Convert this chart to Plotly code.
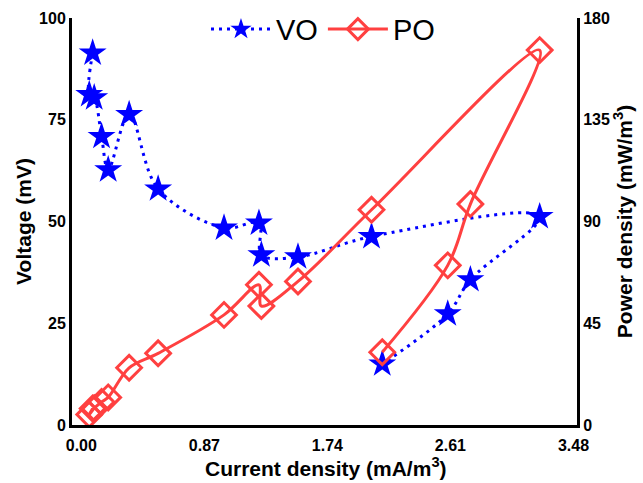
import plotly.graph_objects as go

# Current density (mA/m^3), in measurement order
current = [0.080, 0.056, 0.091, 0.143, 0.190, 0.338, 0.543, 1.009,
           1.256, 1.273, 1.532, 2.052, 3.241, 2.751, 2.591, 2.128]
# Voltage (mV)
voltage = [91.4, 81.2, 80.4, 70.9, 62.7, 76.3, 58.0, 48.4,
           49.6, 41.8, 41.3, 46.3, 51.2, 35.7, 27.3, 15.0]
# Power density (mW/m^3)
power = [7.3, 4.6, 7.4, 10.2, 12.2, 25.3, 31.7, 48.7,
         62.0, 52.6, 63.5, 95.2, 165.8, 97.7, 70.6, 32.2]

x_ticks = [0.00, 0.87, 1.74, 2.61, 3.48]
y_ticks = [0, 25, 50, 75, 100]
y2_ticks = [0, 45, 90, 135, 180]

FONT = "Liberation Sans, Arial, sans-serif"
BLUE = "#0000FF"
RED = "#FF4040"

fig = go.Figure()
fig.add_trace(go.Scatter(
    x=current, y=voltage, name="VO", mode="lines+markers",
    line=dict(color=BLUE, width=3, dash="3px,5px", shape="spline", smoothing=1),
    marker=dict(symbol="star", size=21, color=BLUE, line=dict(width=0)),
    yaxis="y",
))
fig.add_trace(go.Scatter(
    x=current, y=power, name="PO", mode="lines+markers",
    line=dict(color=RED, width=3, shape="spline", smoothing=1),
    marker=dict(symbol="diamond-open", size=19, color=RED, line=dict(width=3, color=RED)),
    yaxis="y2",
))

axis_common = dict(
    showgrid=False, zeroline=False, showline=True, linecolor="black", linewidth=3,
    ticks="", automargin=False,
    tickfont=dict(family=FONT, size=16, color="black", weight="bold"),
)
title_font = dict(family=FONT, size=21, color="black", weight="bold")

fig.update_layout(
    width=643, height=483,
    margin=dict(l=72, r=66, t=18, b=58, autoexpand=False),
    paper_bgcolor="white", plot_bgcolor="white",
    font=dict(family=FONT, color="black"),
    showlegend=True,
    legend=dict(orientation="h", x=0.497, xanchor="center", y=1.035, yanchor="top",
                font=dict(family=FONT, size=29, color="black"),
                bgcolor="rgba(0,0,0,0)", itemwidth=60),
    xaxis=dict(axis_common, range=[-0.066, 3.505], tickvals=x_ticks, tickformat=".2f",
               ticklabelstandoff=4),
    yaxis=dict(axis_common, range=[0, 100], tickvals=y_ticks,
               title=dict(text="Voltage (mV)", standoff=2, font=title_font)),
    yaxis2=dict(axis_common, range=[0, 180], tickvals=y2_ticks, overlaying="y", side="right",
                title=dict(text="Power density (mW/m<sup>3</sup>)", standoff=5,
                           font=title_font)),
    annotations=[dict(text="Current density (mA/m<sup>3</sup>)", xref="paper", yref="paper",
                      x=0.503, y=-0.104, xanchor="center", yanchor="middle",
                      showarrow=False, font=title_font)],
)

fig.write_html("out.html", config={"displayModeBar": False},
               post_script="document.body.style.margin='0px';document.body.style.overflow='hidden';")
